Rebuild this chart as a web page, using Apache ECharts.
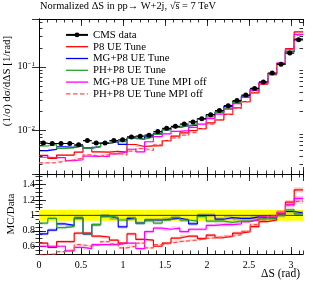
<!DOCTYPE html>
<html><head><meta charset="utf-8">
<script src="https://cdn.jsdelivr.net/npm/echarts@6/dist/echarts.min.js"></script>
<style>html,body{margin:0;padding:0;background:#fff}#c{width:313px;height:282px}</style>
</head><body><div id="c"></div>
<script>
// ---------- data ----------
const NBINS = 30;
const binEdges = Array.from({length: NBINS + 1}, (_, i) => i * Math.PI / NBINS);

const cmsData = [0.0064,0.0063,0.0063,0.0063,0.0060,0.0070,0.0064,0.0064,0.0070,0.0072,
                 0.0080,0.0082,0.0085,0.0097,0.0109,0.0117,0.0127,0.0137,0.0154,0.0178,
                 0.0207,0.0246,0.0297,0.0361,0.0458,0.058,0.080,0.110,0.164,0.264];
const cmsRelErr = [0.07,0.07,0.07,0.07,0.07,0.07,0.07,0.07,0.07,0.07,
                   0.07,0.07,0.07,0.07,0.07,0.07,0.07,0.07,0.07,0.07,
                   0.07,0.07,0.07,0.07,0.07,0.07,0.07,0.07,0.07,0.07];
const mcRelErr = 0.025;

const ratioP8 = [0.64,0.585,0.66,0.66,0.77,0.77,0.73,0.72,0.68,0.64,0.76,0.69,0.68,0.60,0.64,
                 0.705,0.73,0.73,0.70,0.745,0.71,0.73,0.77,0.79,0.855,0.92,0.94,1.02,1.17,1.33];
const ratioMG = [0.76,0.81,0.89,0.87,0.965,0.76,0.88,0.99,0.965,0.85,0.96,0.90,0.94,0.94,0.95,
                 0.965,0.94,0.89,1.0,1.0,0.95,0.97,0.96,0.96,0.98,0.97,0.965,1.0,1.05,1.03];
const ratioPH = [0.90,0.96,0.84,0.855,0.965,0.76,0.88,0.99,0.97,0.94,0.96,0.90,0.93,0.90,0.94,
                 0.97,0.94,0.925,0.985,0.925,0.925,0.91,0.925,0.925,0.95,0.96,0.965,1.0,1.07,1.02];
const ratioMGoff = [0.60,0.60,0.60,0.54,0.585,0.57,0.62,0.62,0.62,0.64,0.64,0.57,0.79,0.835,0.82,
                    0.835,0.79,0.82,0.82,0.87,0.88,0.88,0.89,0.92,0.94,0.98,0.98,1.04,1.14,1.22];
const ratioPHoff = [0.49,0.50,0.53,0.555,0.62,0.60,0.62,0.66,0.63,0.58,0.60,0.64,0.58,0.62,0.64,
                    0.66,0.67,0.68,0.70,0.71,0.72,0.73,0.75,0.79,0.88,0.94,0.99,1.04,1.13,1.18];

const seriesNames = ['CMS data','P8 UE Tune','MG+P8 UE Tune','PH+P8 UE Tune','MG+P8 UE Tune MPI off','PH+P8 UE Tune MPI off'];
const xTickLabels = [0,0.5,1,1.5,2,2.5,3];
const ratioTickLabels = [0.6,0.8,1,1.2,1.4];
const logMinorTicks = [0.003,0.004,0.005,0.006,0.007,0.008,0.009,
                       0.02,0.03,0.04,0.05,0.06,0.07,0.08,0.09,0.2,0.3,0.4,0.5];

// ---------- helpers ----------
const SERIF = 'Liberation Serif';
const XMAX = Math.PI;
function stepData(vals){
  const d = vals.map((v,i)=>[binEdges[i], v]);
  d.push([binEdges[NBINS], vals[NBINS-1]]);
  return d;
}
const mcTop = r => cmsData.map((v,i)=>v*r[i]);

const cmsLine = [];
cmsData.forEach((v,i)=>{
  cmsLine.push({value:[binEdges[i], v], symbol:'none'});
  cmsLine.push({value:[(binEdges[i]+binEdges[i+1])/2, v]});
  cmsLine.push({value:[binEdges[i+1], v], symbol:'none'});
  cmsLine.push([binEdges[i+1], '-']);
});
const cmsErr = cmsData.map((v,i)=>[(binEdges[i]+binEdges[i+1])/2, v*(1-cmsRelErr[i]), v*(1+cmsRelErr[i])]);
const bandData = cmsRelErr.map((e,i)=>[binEdges[i], binEdges[i+1], 1-e, 1+e]);

function xAx(grid, pos, interval, len, withLabels){
  const a = {type:'value', gridIndex:grid, position:pos, min:0, max:XMAX, interval:interval,
    axisLine:{show:true, onZero:false, lineStyle:{color:'#000', width:1}},
    axisTick:{show:true, inside:true, length:len, lineStyle:{color:'#000', width:0.8}},
    axisLabel:{show:false}, splitLine:{show:false}};
  if (withLabels){
    a.axisLabel = {show:true, showMaxLabel:false, margin:6, fontFamily:SERIF, fontSize:10, color:'#000',
      formatter: v => (xTickLabels.some(t=>Math.abs(t-v)<1e-9) ? String(v) : '')};
    a.name = 'ΔS (rad)';
    a.nameLocation = 'end';
    a.nameGap = -42;
    a.nameMoveOverlap = false;
    a.nameTextStyle = {fontFamily:SERIF, fontSize:11.5, color:'#000', align:'left', verticalAlign:'top', padding:[14,0,0,0]};
  }
  return a;
}
const tickStyle = {color:'#000', width:0.8};
const RMIN = 0.5, RMAX = 1.535;
const LINE_ICON = 'path://M0,0H22V1.3H0Z';
const DASH_ICON = 'path://M0,0H4.5V1.3H0Z M7,0H11.5V1.3H7Z M14,0H18.5V1.3H14Z M21,0H22V1.3H21Z';

const option = {
  animation:false,
  backgroundColor:'#fff',
  title:{text:'Normalized ΔS in pp→ W+2j, √s̅ = 7 TeV', left:40, top:1, padding:0,
    textStyle:{fontFamily:SERIF, fontSize:10.4, fontWeight:'normal', color:'#000'}},
  grid:[{left:39, top:19, width:264, height:155, outerBoundsMode:'none', containLabel:false},
        {left:39, top:174, width:264, height:80, outerBoundsMode:'none', containLabel:false}],
  legend:{orient:'vertical', left:65, top:29, padding:0, itemWidth:22, itemHeight:6, itemGap:0, symbolKeepAspect:true,
    data:[
      {name:seriesNames[0]},
      {name:seriesNames[1], icon:LINE_ICON},
      {name:seriesNames[2], icon:LINE_ICON},
      {name:seriesNames[3], icon:LINE_ICON},
      {name:seriesNames[4], icon:LINE_ICON},
      {name:seriesNames[5], icon:DASH_ICON}
    ],
    textStyle:{fontFamily:SERIF, fontSize:10.8, color:'#000', lineHeight:11.8}},
  xAxis:[
    xAx(0,'bottom',0.5,7,false), xAx(0,'top',0.5,7,false), xAx(0,'bottom',0.1,3.5,false), xAx(0,'top',0.1,3.5,false),
    xAx(1,'bottom',0.5,7,true), xAx(1,'top',0.5,7,false), xAx(1,'bottom',0.1,3.5,false), xAx(1,'top',0.1,3.5,false)
  ],
  yAxis:[
    {type:'log', gridIndex:0, position:'left', min:0.0021, max:0.56, logBase:10,
      axisLine:{show:true, lineStyle:{color:'#000'}}, axisTick:{inside:true, length:7, lineStyle:tickStyle},
      splitLine:{show:false},
      axisLabel:{margin:4, color:'#000', fontFamily:SERIF,
        formatter: v => { const e = Math.log10(v); return Math.abs(e-Math.round(e))<1e-6 ? '{b|10}{s|−'+Math.abs(Math.round(e))+'}' : ''; },
        rich:{b:{fontFamily:SERIF, fontSize:10, color:'#000'}, s:{fontFamily:SERIF, fontSize:7, color:'#000', verticalAlign:'bottom', padding:[0,0,6,0]}}},
      name:'(1/σ) dσ/dΔS [1/rad]', nameLocation:'middle', nameGap:26, nameRotate:90, nameMoveOverlap:false,
      nameTextStyle:{fontFamily:SERIF, fontSize:11, color:'#000', padding:[0,0,0,31]}},
    {type:'log', gridIndex:0, position:'right', min:0.0021, max:0.56, logBase:10,
      axisLine:{show:true, lineStyle:{color:'#000'}}, axisTick:{inside:true, length:7, lineStyle:tickStyle},
      splitLine:{show:false}, axisLabel:{show:false}},
    {type:'value', gridIndex:1, position:'left', min:RMIN, max:RMAX,
      axisLine:{show:true, lineStyle:{color:'#000'}},
      axisTick:{inside:true, length:7, lineStyle:tickStyle, customValues:ratioTickLabels},
      splitLine:{show:false},
      axisLabel:{margin:4, color:'#000', fontFamily:SERIF, fontSize:10, customValues:ratioTickLabels, formatter:v=>String(v)},
      name:'MC/Data', nameLocation:'middle', nameGap:22, nameRotate:90, nameMoveOverlap:false,
      nameTextStyle:{fontFamily:SERIF, fontSize:11, color:'#000'}},
    {type:'value', gridIndex:1, position:'right', min:RMIN, max:RMAX,
      axisLine:{show:true, lineStyle:{color:'#000'}},
      axisTick:{inside:true, length:7, lineStyle:tickStyle, customValues:ratioTickLabels},
      splitLine:{show:false}, axisLabel:{show:false}},
    {type:'value', gridIndex:1, position:'left', min:RMIN, max:RMAX, interval:0.05,
      axisLine:{show:false}, axisTick:{inside:true, length:3.5, lineStyle:tickStyle},
      splitLine:{show:false}, axisLabel:{show:false}},
    {type:'value', gridIndex:1, position:'right', min:RMIN, max:RMAX, interval:0.05,
      axisLine:{show:false}, axisTick:{inside:true, length:3.5, lineStyle:tickStyle},
      splitLine:{show:false}, axisLabel:{show:false}}
  ],
  series:[]
};

function bandSeries(xi, yi, vals, color){
  return {type:'custom', xAxisIndex:xi, yAxisIndex:yi, z:2, silent:true,
    data: vals.map((v,i)=>[binEdges[i], binEdges[i+1], v*(1-mcRelErr), v*(1+mcRelErr)]),
    renderItem:(p,api)=>{
      const a = api.coord([api.value(0), api.value(3)]);
      const b = api.coord([api.value(1), api.value(2)]);
      return {type:'rect', shape:{x:a[0], y:a[1], width:b[0]-a[0], height:Math.max(1, b[1]-a[1])},
        style:{fill:color, opacity:0.22}};
    }};
}

function mcSeries(name, color, ratio, dashed){
  const ls = {color:color, width:1.2, type: dashed ? [4,2.5] : 'solid'};
  return [
    bandSeries(0, 0, mcTop(ratio), color),
    bandSeries(4, 2, ratio, color),
    {name:name, type:'line', xAxisIndex:0, yAxisIndex:0, step:'end', symbol:'none', z:3,
      lineStyle:ls, itemStyle:{color:color}, data:stepData(mcTop(ratio))},
    {name:name, type:'line', xAxisIndex:4, yAxisIndex:2, step:'end', symbol:'none', z:3,
      lineStyle:ls, itemStyle:{color:color}, data:stepData(ratio)}
  ];
}

option.series.push(
  {type:'custom', name:'band', xAxisIndex:4, yAxisIndex:2, z:1, data:bandData,
    renderItem:(p,api)=>{
      const a = api.coord([api.value(0), api.value(3)]);
      const b = api.coord([api.value(1), api.value(2)]);
      return {type:'rect', shape:{x:a[0], y:a[1], width:b[0]-a[0], height:b[1]-a[1]}, style:{fill:'#ffff00'}};
    }},
  {type:'line', name:'unity', xAxisIndex:4, yAxisIndex:2, symbol:'none', z:2,
    lineStyle:{color:'#000', width:0.8}, data:[[0,1],[XMAX,1]]},
  {type:'custom', name:'logminor', xAxisIndex:0, yAxisIndex:0, z:5, clip:false,
    data:logMinorTicks.map(v=>[0,v]),
    renderItem:(p,api)=>{
      const v = api.value(1);
      const l = api.coord([0, v]); const r = api.coord([XMAX, v]);
      const y = Math.round(l[1]) + 0.5;
      return {type:'group', children:[
        {type:'line', shape:{x1:l[0], y1:y, x2:l[0]+3.5, y2:y}, style:{stroke:'#000', lineWidth:0.8}},
        {type:'line', shape:{x1:r[0], y1:y, x2:r[0]-3.5, y2:y}, style:{stroke:'#000', lineWidth:0.8}}
      ]};
    }},
  ...mcSeries('P8 UE Tune', '#ff0000', ratioP8, false),
  ...mcSeries('MG+P8 UE Tune', '#0000ff', ratioMG, false),
  ...mcSeries('PH+P8 UE Tune', '#2ca02c', ratioPH, false),
  ...mcSeries('MG+P8 UE Tune MPI off', '#ff00ff', ratioMGoff, false),
  ...mcSeries('PH+P8 UE Tune MPI off', '#ff5050', ratioPHoff, true),
  {type:'custom', name:'cmserr', xAxisIndex:0, yAxisIndex:0, z:8, data:cmsErr,
    renderItem:(p,api)=>{
      const a = api.coord([api.value(0), api.value(1)]);
      const b = api.coord([api.value(0), api.value(2)]);
      return {type:'line', shape:{x1:a[0], y1:a[1], x2:b[0], y2:b[1]}, style:{stroke:'#000', lineWidth:1}};
    }},
  {name:'CMS data', type:'line', xAxisIndex:0, yAxisIndex:0, z:9, connectNulls:false,
    symbol:'circle', symbolSize:5, showSymbol:true,
    lineStyle:{color:'#000', width:1.2}, itemStyle:{color:'#000'}, data:cmsLine}
);

const chart = echarts.init(document.getElementById('c'), null, {renderer:'canvas'});
chart.setOption(option);
</script></body></html>
